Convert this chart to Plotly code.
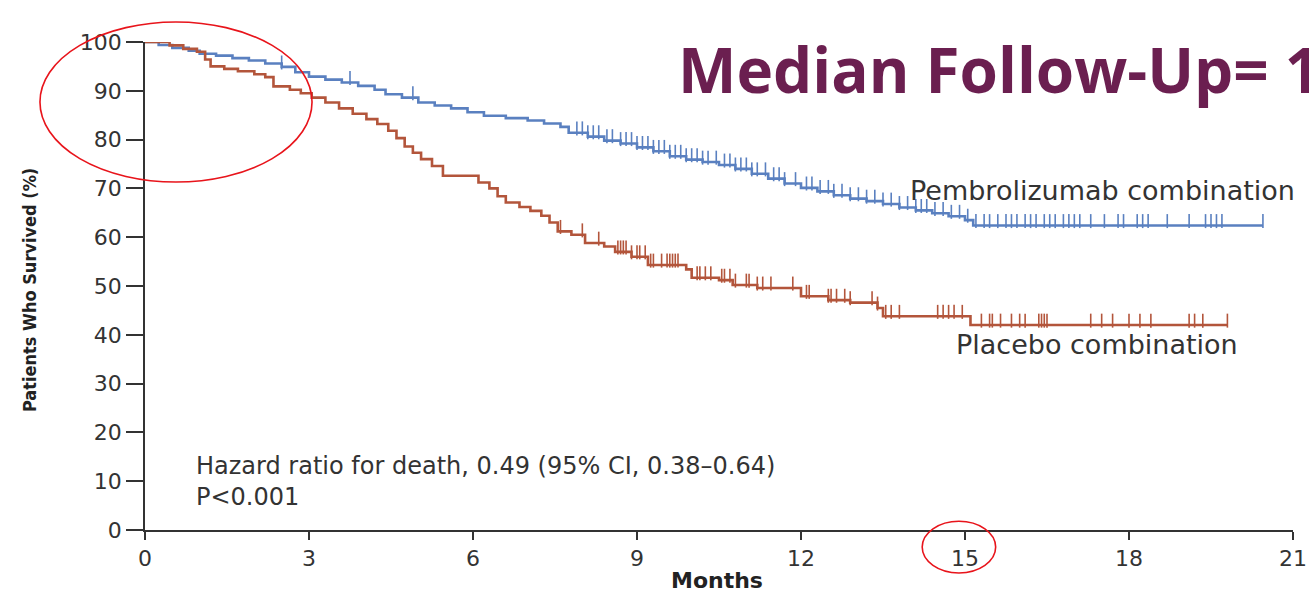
import numpy as np
import plotly.graph_objects as go

# ---- data ----
pembro_t = [0, 0.25, 0.5, 0.8, 1.0, 1.3, 1.6, 1.9, 2.2, 2.5, 2.75, 3.0, 3.3, 3.6, 3.9,
            4.2, 4.4, 4.7, 5.0, 5.3, 5.6, 5.9, 6.2, 6.6, 7.0, 7.3, 7.6, 7.75, 8.1, 8.4,
            8.7, 9.0, 9.3, 9.6, 9.9, 10.2, 10.5, 10.8, 11.1, 11.4, 11.7, 12.0, 12.3, 12.6,
            12.9, 13.2, 13.5, 13.8, 14.1, 14.4, 14.7, 15.0, 15.15]
pembro_s = [100, 99.4, 98.8, 98.2, 97.6, 97.2, 96.7, 96.2, 95.6, 94.9, 93.8, 92.9, 92.3, 91.7, 91.0,
            90.2, 89.3, 88.6, 87.6, 87.0, 86.4, 85.6, 84.9, 84.4, 83.9, 83.3, 82.6, 81.4, 80.6, 79.8,
            79.2, 78.4, 77.6, 76.6, 75.9, 75.4, 74.8, 74.0, 73.0, 72.0, 71.0, 70.1, 69.4, 68.6,
            67.9, 67.4, 66.8, 66.1, 65.5, 64.9, 64.3, 63.5, 62.4]
pembro_end = 20.45
pembro_censor = [2.5, 3.75, 4.9, 7.9, 8.0, 8.1, 8.2, 8.3, 8.45, 8.55, 8.7, 8.8, 8.9, 9.0, 9.1, 9.2,
                 9.3, 9.4, 9.5, 9.6, 9.7, 9.8, 9.9, 10.0, 10.1, 10.2, 10.3, 10.45, 10.6, 10.7, 10.8,
                 10.9, 11.0, 11.1, 11.2, 11.35, 11.5, 11.6, 11.7, 11.9, 12.1, 12.2, 12.35, 12.5,
                 12.6, 12.75, 12.9, 13.05, 13.2, 13.35, 13.5, 13.65, 13.8, 13.95, 14.1, 14.2, 14.3,
                 14.45, 14.6, 14.75, 14.9, 15.05, 15.2, 15.35, 15.45, 15.6, 15.75, 15.85, 15.95,
                 16.1, 16.2, 16.3, 16.45, 16.55, 16.65, 16.8, 16.9, 17.0, 17.1, 17.3, 17.55, 17.8,
                 17.9, 18.15, 18.25, 18.35, 18.7, 19.1, 19.4, 19.5, 19.6, 19.7, 20.45]

placebo_t = [0, 0.45, 0.7, 0.95, 1.1, 1.2, 1.45, 1.7, 2.0, 2.2, 2.35, 2.65, 2.85, 3.05, 3.3,
             3.55, 3.8, 4.05, 4.25, 4.45, 4.6, 4.75, 4.9, 5.05, 5.25, 5.45, 6.1, 6.3, 6.45, 6.6,
             6.85, 7.05, 7.25, 7.4, 7.55, 7.8, 8.05, 8.4, 8.6, 8.9, 9.2, 9.9, 10.0, 10.5, 10.75,
             11.2, 12.0, 12.5, 12.9, 13.4, 13.5, 15.1]
placebo_s = [100, 99.3, 98.6, 98.0, 96.4, 95.0, 94.5, 94.0, 93.4, 92.8, 90.9, 90.2, 89.5, 88.6, 87.6,
             86.4, 85.3, 84.2, 83.2, 81.8, 80.3, 78.6, 77.3, 76.0, 74.6, 72.6, 71.2, 70.0, 68.4, 67.1,
             66.2, 65.4, 64.4, 63.0, 61.2, 60.5, 58.8, 58.1, 57.0, 56.0, 54.3, 53.4, 51.7, 51.2, 50.2,
             49.6, 47.9, 47.1, 46.6, 45.5, 43.8, 42.0]
placebo_end = 19.8
placebo_censor = [7.6, 8.0, 8.3, 8.65, 8.7, 8.75, 8.8, 8.9, 9.0, 9.05, 9.15, 9.25, 9.3, 9.45, 9.55,
                  9.6, 9.65, 9.7, 9.75, 10.1, 10.15, 10.25, 10.35, 10.55, 10.6, 10.7, 10.8, 11.0,
                  11.05, 11.2, 11.3, 11.45, 11.85, 12.1, 12.15, 12.5, 12.55, 12.65, 12.8, 12.9,
                  13.3, 13.4, 13.55, 13.65, 13.8, 14.5, 14.6, 14.7, 14.8, 14.95, 15.3, 15.45, 15.5,
                  15.65, 15.85, 16.0, 16.1, 16.35, 16.4, 16.45, 16.5, 17.3, 17.5, 17.7, 18.0, 18.2,
                  18.4, 19.1, 19.2, 19.35, 19.8]

x_ticks = [0, 3, 6, 9, 12, 15, 18, 21]
y_ticks = [0, 10, 20, 30, 40, 50, 60, 70, 80, 90, 100]

BLUE = "#5a80c0"
RED = "#b3553b"
AXIS = "#333333"
TICKFONT = dict(family="DejaVu Sans", size=22, color="#333333")
LABELFONT = dict(family="DejaVu Sans", size=27, color="#333333")
NOTEFONT = dict(family="DejaVu Sans", size=24, color="#333333")


def step_value(times, surv, t):
    idx = np.searchsorted(np.array(times), np.array(t), side="right") - 1
    return np.array(surv)[idx]


fig = go.Figure()

for times, surv, end, censor, col, name in [
    (pembro_t, pembro_s, pembro_end, pembro_censor, BLUE, "Pembrolizumab combination"),
    (placebo_t, placebo_s, placebo_end, placebo_censor, RED, "Placebo combination"),
]:
    fig.add_trace(go.Scatter(
        x=times + [end], y=surv + [surv[-1]], mode="lines", line_shape="hv",
        line=dict(color=col, width=2.6), name=name, showlegend=False, hoverinfo="skip"))
    cy = step_value(times, surv, censor) + 0.9
    fig.add_trace(go.Scatter(
        x=censor, y=cy, mode="markers", showlegend=False, hoverinfo="skip",
        marker=dict(symbol="line-ns", size=10, line=dict(color=col, width=1.6))))

fig.update_xaxes(range=[0, 21], tickvals=x_ticks, ticktext=[str(v) for v in x_ticks],
                 showline=True, linecolor=AXIS, linewidth=1.5, ticks="outside", ticklen=8,
                 tickwidth=1.5, tickcolor=AXIS, showgrid=False, zeroline=False,
                 tickfont=TICKFONT, automargin=False)
fig.update_yaxes(range=[0, 100], tickvals=y_ticks, ticktext=[str(v) for v in y_ticks],
                 showline=True, linecolor=AXIS, linewidth=1.5, ticks="outside", ticklen=17,
                 tickwidth=1.5, tickcolor=AXIS, showgrid=False, zeroline=False,
                 tickfont=TICKFONT, automargin=False)

# axis titles as annotations
fig.add_annotation(x=-0.1, y=0.492, xref="paper", yref="paper", xanchor="center", yanchor="middle",
                   text="<b>Patients Who Survived (%)</b>", textangle=-90, showarrow=False,
                   font=dict(family="Liberation Sans Narrow, DejaVu Sans Condensed, sans-serif",
                             size=18, color="#222"))
fig.add_annotation(x=0.498, y=-0.104, xref="paper", yref="paper", xanchor="center", yanchor="middle",
                   text="<b>Months</b>", showarrow=False,
                   font=dict(family="DejaVu Sans", size=22, color="#222"))

fig.add_annotation(x=13.96, y=69.5, xref="x", yref="y", xanchor="left", yanchor="middle",
                   text="Pembrolizumab combination", showarrow=False, font=LABELFONT)
fig.add_annotation(x=14.8, y=38.0, xref="x", yref="y", xanchor="left", yanchor="middle",
                   text="Placebo combination", showarrow=False, font=LABELFONT)
fig.add_annotation(x=0.9, y=9.9, xref="x", yref="y", xanchor="left", yanchor="middle", align="left",
                   text="Hazard ratio for death, 0.49 (95% CI, 0.38\u20130.64)<br>P<0.001",
                   showarrow=False, font=NOTEFONT)
fig.add_annotation(x=0.4625, y=0.945, xref="paper", yref="paper", xanchor="left", yanchor="middle",
                   text="<b>Median Follow-Up= 10.5 months</b>", showarrow=False,
                   font=dict(family="Open Sans", size=62, color="#6b1f50"))

# red hand-drawn highlight ellipses
fig.add_shape(type="circle", xref="paper", yref="paper", x0=-0.0915, x1=0.1455, y0=0.713, y1=1.041,
              line=dict(color="#e8141b", width=1.6))
fig.add_shape(type="circle", xref="paper", yref="paper", x0=0.677, x1=0.741, y0=-0.088, y1=0.018,
              line=dict(color="#e8141b", width=1.6))

fig.update_layout(width=1309, height=598, margin=dict(l=145, r=16, t=42, b=68),
                  paper_bgcolor="white", plot_bgcolor="white", showlegend=False)

fig.write_html("out.html")
